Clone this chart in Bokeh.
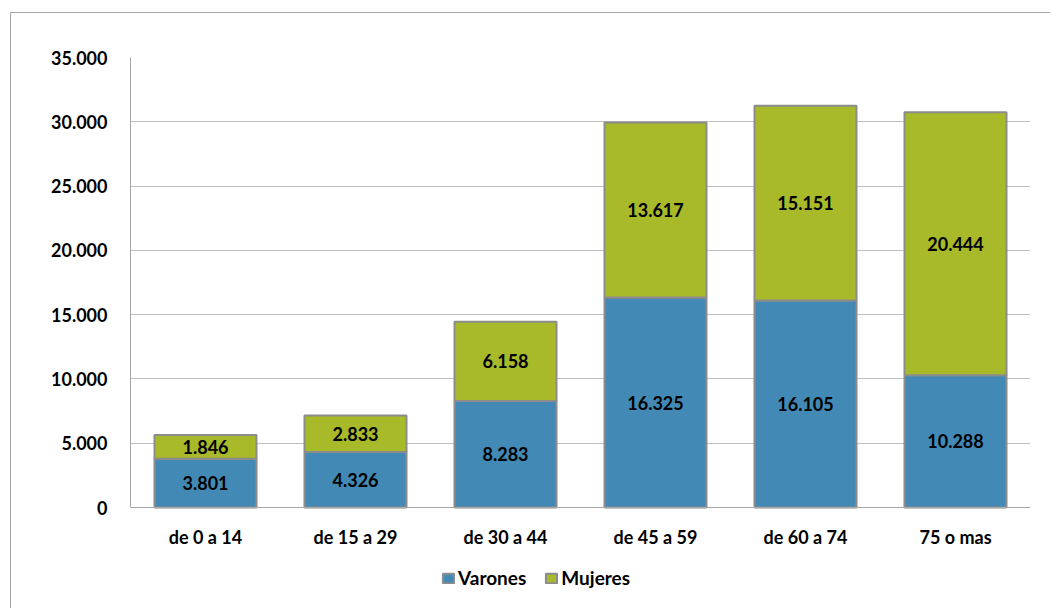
from bokeh.plotting import figure
from bokeh.models import ColumnDataSource, CustomJSTickFormatter, Legend, LegendItem, FixedTicker, Range1d
from bokeh.core.properties import value
from bokeh.embed import file_html
from bokeh.resources import INLINE

categories = ["de 0 a 14", "de 15 a 29", "de 30 a 44", "de 45 a 59", "de 60 a 74", "75 o mas"]
varones = [3801, 4326, 8283, 16325, 16105, 10288]
mujeres = [1846, 2833, 6158, 13617, 15151, 20444]
series_names = ["Varones", "Mujeres"]
y_ticks = [0, 5000, 10000, 15000, 20000, 25000, 30000, 35000]

BLUE = "#428AB5"
GREEN = "#A8B92A"
EDGE = "#8C8C8C"
FONT = "Lato"
FS = "18px"

def fmt(v):
    return f"{v:,}".replace(",", ".")

tops = [v + m for v, m in zip(varones, mujeres)]
src = ColumnDataSource(dict(
    cat=categories,
    v=varones,
    m=mujeres,
    top=tops,
    v_mid=[v / 2 for v in varones],
    m_mid=[v + m / 2 for v, m in zip(varones, mujeres)],
    v_lab=[fmt(v) for v in varones],
    m_lab=[fmt(m) for m in mujeres],
))

# frame spans 57..609 px; value 0 sits at 507 px, 35000 at 57 px
y_top = 35000
y_bottom = -y_top * 102 / 450

p = figure(x_range=categories, y_range=Range1d(y_bottom, y_top), width=1040, height=596,
           output_backend="svg", toolbar_location=None,
           min_border_left=119, min_border_right=21, min_border_top=44, min_border_bottom=0,
           margin=(12, 0, 0, 10))
p.styles = {"border-left": "1px solid #A6A6A6", "border-top": "1px solid #A6A6A6"}
p.outline_line_color = None
p.background_fill_color = "white"
p.border_fill_color = "white"

r1 = p.vbar(x="cat", bottom=0, top="v", width=0.68, source=src,
            fill_color=BLUE, line_color=EDGE, line_width=2)
r2 = p.vbar(x="cat", bottom="v", top="top", width=0.68, source=src,
            fill_color=GREEN, line_color=EDGE, line_width=2)

for ycol, lcol in (("v_mid", "v_lab"), ("m_mid", "m_lab")):
    p.text(x="cat", y=ycol, text=lcol, source=src, text_align="center",
           text_baseline="middle", text_font=value(FONT), text_font_style="bold",
           text_font_size=FS, text_color="black")

p.xgrid.grid_line_color = None
p.ygrid.grid_line_color = "#BFBFBF"
p.ygrid.grid_line_width = 1
p.yaxis.ticker = FixedTicker(ticks=y_ticks)
p.ygrid.ticker = FixedTicker(ticks=y_ticks[1:])
p.yaxis.bounds = (0, y_top)
p.yaxis.formatter = CustomJSTickFormatter(code="return tick.toFixed(0).replace(/\\B(?=(\\d{3})+(?!\\d))/g, '.');")
p.xaxis.fixed_location = 0
for ax in (p.xaxis, p.yaxis):
    ax.axis_line_color = "#A6A6A6"
    ax.major_tick_line_color = None
    ax.minor_tick_line_color = None
    ax.major_label_text_font = FONT
    ax.major_label_text_font_style = "bold"
    ax.major_label_text_font_size = FS
    ax.major_label_text_color = "black"
p.yaxis.major_label_standoff = 17
p.xaxis.major_label_standoff = 12
p.x_range.range_padding = 0

legend = Legend(items=[LegendItem(label=series_names[0], renderers=[r1]),
                       LegendItem(label=series_names[1], renderers=[r2])],
                orientation="horizontal", location=(311, 20),
                label_text_font=FONT, label_text_font_style="bold", label_text_font_size="19px",
                label_text_color="black",
                glyph_width=14, glyph_height=12, label_standoff=3, spacing=18,
                padding=0, margin=0, border_line_color=None, background_fill_alpha=0)
p.add_layout(legend, "center")

open("out.html", "w").write(file_html(p, INLINE))
